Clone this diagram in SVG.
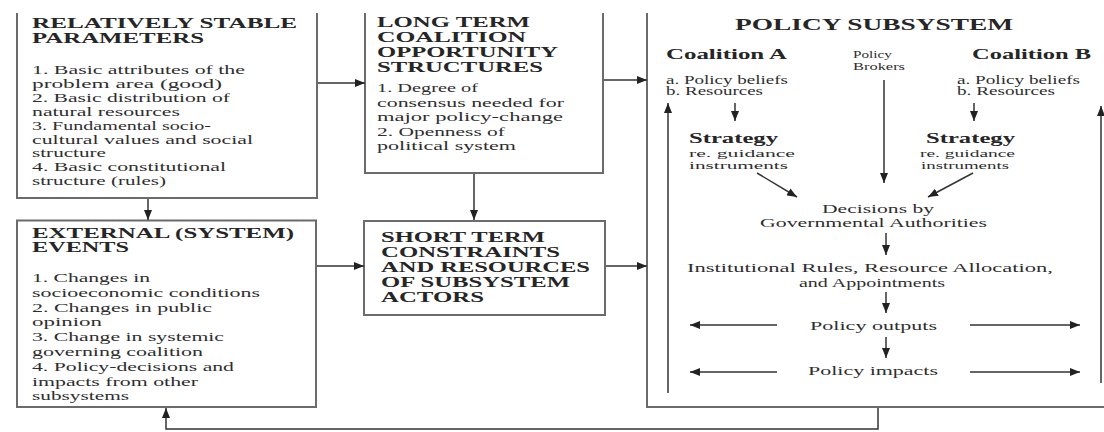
<svg xmlns="http://www.w3.org/2000/svg" width="1104" height="432" viewBox="0 0 1104 432">
<style>
.box{fill:none;stroke:#6b6b6b;stroke-width:2}
.ln{fill:none;stroke:#333;stroke-width:1.5}
.ttl{font-family:"Liberation Serif","Times New Roman",serif;font-weight:bold;font-size:15px;fill:#262626}
.bd{font-family:"Liberation Serif","Times New Roman",serif;font-size:13px;fill:#2e2e2e}
.sm{font-family:"Liberation Serif","Times New Roman",serif;font-size:11.5px;fill:#2e2e2e}
.sb{font-family:"Liberation Serif","Times New Roman",serif;font-weight:bold;font-size:14px;fill:#262626}
</style>
<defs>
<marker id="ah" markerUnits="userSpaceOnUse" markerWidth="10" markerHeight="8" refX="10" refY="4" orient="auto"><path d="M0,0 L10,4 L0,8 z" fill="#222"/></marker>
</defs>
<rect width="1104" height="432" fill="#fff"/>
<g id="n-stable">
<path class="box" d="M17,13 V198 H317 V13"/>
<text class="ttl" x="32" y="28" textLength="265" lengthAdjust="spacingAndGlyphs">RELATIVELY STABLE</text>
<text class="ttl" x="32" y="42.5" textLength="172" lengthAdjust="spacingAndGlyphs">PARAMETERS</text>
<text class="bd" x="32" y="74" textLength="213" lengthAdjust="spacingAndGlyphs">1. Basic attributes of the</text>
<text class="bd" x="32" y="87.9" textLength="190" lengthAdjust="spacingAndGlyphs">problem area (good)</text>
<text class="bd" x="32" y="101.8" textLength="198" lengthAdjust="spacingAndGlyphs">2. Basic distribution of</text>
<text class="bd" x="32" y="115.7" textLength="148" lengthAdjust="spacingAndGlyphs">natural resources</text>
<text class="bd" x="32" y="129.6" textLength="179" lengthAdjust="spacingAndGlyphs">3. Fundamental socio-</text>
<text class="bd" x="32" y="143.5" textLength="221" lengthAdjust="spacingAndGlyphs">cultural values and social</text>
<text class="bd" x="32" y="157.4" textLength="74" lengthAdjust="spacingAndGlyphs">structure</text>
<text class="bd" x="32" y="171.3" textLength="194" lengthAdjust="spacingAndGlyphs">4. Basic constitutional</text>
<text class="bd" x="32" y="185.2" textLength="134" lengthAdjust="spacingAndGlyphs">structure (rules)</text>
</g>
<g id="n-longterm">
<path class="box" d="M365,13 V173 H603 V13"/>
<text class="ttl" x="377" y="27" textLength="153" lengthAdjust="spacingAndGlyphs">LONG TERM</text>
<text class="ttl" x="377" y="42" textLength="149" lengthAdjust="spacingAndGlyphs">COALITION</text>
<text class="ttl" x="377" y="57" textLength="181" lengthAdjust="spacingAndGlyphs">OPPORTUNITY</text>
<text class="ttl" x="377" y="72" textLength="166" lengthAdjust="spacingAndGlyphs">STRUCTURES</text>
<text class="bd" x="377" y="92" textLength="101" lengthAdjust="spacingAndGlyphs">1. Degree of</text>
<text class="bd" x="377" y="106.5" textLength="187" lengthAdjust="spacingAndGlyphs">consensus needed for</text>
<text class="bd" x="377" y="121" textLength="186" lengthAdjust="spacingAndGlyphs">major policy-change</text>
<text class="bd" x="377" y="135.5" textLength="128" lengthAdjust="spacingAndGlyphs">2. Openness of</text>
<text class="bd" x="377" y="150" textLength="139" lengthAdjust="spacingAndGlyphs">political system</text>
</g>
<g id="n-external">
<rect class="box" x="17" y="220.5" width="299" height="186.5"/>
<text class="ttl" x="32" y="238" textLength="262" lengthAdjust="spacingAndGlyphs">EXTERNAL (SYSTEM)</text>
<text class="ttl" x="32" y="252" textLength="97" lengthAdjust="spacingAndGlyphs">EVENTS</text>
<text class="bd" x="32" y="282" textLength="118" lengthAdjust="spacingAndGlyphs">1. Changes in</text>
<text class="bd" x="32" y="296.8" textLength="228" lengthAdjust="spacingAndGlyphs">socioeconomic conditions</text>
<text class="bd" x="32" y="311.6" textLength="180" lengthAdjust="spacingAndGlyphs">2. Changes in public</text>
<text class="bd" x="32" y="326.4" textLength="70" lengthAdjust="spacingAndGlyphs">opinion</text>
<text class="bd" x="32" y="341.2" textLength="192" lengthAdjust="spacingAndGlyphs">3. Change in systemic</text>
<text class="bd" x="32" y="356" textLength="171" lengthAdjust="spacingAndGlyphs">governing coalition</text>
<text class="bd" x="32" y="370.8" textLength="202" lengthAdjust="spacingAndGlyphs">4. Policy-decisions and</text>
<text class="bd" x="32" y="385.6" textLength="166" lengthAdjust="spacingAndGlyphs">impacts from other</text>
<text class="bd" x="32" y="400.4" textLength="97" lengthAdjust="spacingAndGlyphs">subsystems</text>
</g>
<g id="n-shortterm">
<rect class="box" x="364" y="221" width="241" height="94"/>
<text class="ttl" x="381" y="242" textLength="164" lengthAdjust="spacingAndGlyphs">SHORT TERM</text>
<text class="ttl" x="381" y="257" textLength="179" lengthAdjust="spacingAndGlyphs">CONSTRAINTS</text>
<text class="ttl" x="381" y="272" textLength="209" lengthAdjust="spacingAndGlyphs">AND RESOURCES</text>
<text class="ttl" x="381" y="287" textLength="189" lengthAdjust="spacingAndGlyphs">OF SUBSYSTEM</text>
<text class="ttl" x="381" y="302" textLength="103" lengthAdjust="spacingAndGlyphs">ACTORS</text>
</g>
<g id="n-policy">
<path class="box" d="M647,13 V407 H1110"/>
<text class="ttl" style="font-size:17px" x="735" y="29.5" textLength="278" lengthAdjust="spacingAndGlyphs">POLICY SUBSYSTEM</text>
<g id="n-coalition-a">
<text class="sb" x="666" y="58.5" textLength="121" lengthAdjust="spacingAndGlyphs">Coalition A</text>
<text class="sm" x="666" y="83.5" textLength="122" lengthAdjust="spacingAndGlyphs">a. Policy beliefs</text>
<text class="sm" x="666" y="94.5" textLength="97" lengthAdjust="spacingAndGlyphs">b. Resources</text>
</g>
<g id="n-brokers">
<text class="sm" style="font-size:11px" x="853" y="57.5" textLength="39" lengthAdjust="spacingAndGlyphs">Policy</text>
<text class="sm" style="font-size:11px" x="853" y="69.5" textLength="52" lengthAdjust="spacingAndGlyphs">Brokers</text>
</g>
<g id="n-coalition-b">
<text class="sb" x="972" y="58.5" textLength="119" lengthAdjust="spacingAndGlyphs">Coalition B</text>
<text class="sm" x="957" y="83.5" textLength="123" lengthAdjust="spacingAndGlyphs">a. Policy beliefs</text>
<text class="sm" x="957" y="94.5" textLength="98" lengthAdjust="spacingAndGlyphs">b. Resources</text>
</g>
<g id="n-strategy-a">
<text class="sb" x="689" y="143" textLength="89" lengthAdjust="spacingAndGlyphs">Strategy</text>
<text class="sm" style="font-size:10.8px" x="689" y="157" textLength="106" lengthAdjust="spacingAndGlyphs">re. guidance</text>
<text class="sm" style="font-size:10.8px" x="689" y="169" textLength="99" lengthAdjust="spacingAndGlyphs">instruments</text>
</g>
<g id="n-strategy-b">
<text class="sb" x="926" y="143" textLength="89" lengthAdjust="spacingAndGlyphs">Strategy</text>
<text class="sm" style="font-size:10.8px" x="920" y="157" textLength="95" lengthAdjust="spacingAndGlyphs">re. guidance</text>
<text class="sm" style="font-size:10.8px" x="921" y="169" textLength="88" lengthAdjust="spacingAndGlyphs">instruments</text>
</g>
<g id="n-decisions">
<text class="bd" x="822" y="213" textLength="112" lengthAdjust="spacingAndGlyphs">Decisions by</text>
<text class="bd" x="760" y="227" textLength="227" lengthAdjust="spacingAndGlyphs">Governmental Authorities</text>
</g>
<g id="n-rules">
<text class="bd" x="687" y="272" textLength="366" lengthAdjust="spacingAndGlyphs">Institutional Rules, Resource Allocation,</text>
<text class="bd" x="799" y="287" textLength="146" lengthAdjust="spacingAndGlyphs">and Appointments</text>
</g>
<g id="n-outputs">
<text class="bd" x="810" y="330" textLength="127" lengthAdjust="spacingAndGlyphs">Policy outputs</text>
</g>
<g id="n-impacts">
<text class="bd" x="808" y="375" textLength="130" lengthAdjust="spacingAndGlyphs">Policy impacts</text>
</g>
</g>
<g id="connectors">
<line class="ln" x1="318" y1="83" x2="365" y2="83" marker-end="url(#ah)"/>
<line class="ln" x1="604" y1="80" x2="647" y2="80" marker-end="url(#ah)"/>
<line class="ln" x1="148" y1="199" x2="148" y2="220" marker-end="url(#ah)"/>
<line class="ln" x1="474" y1="174" x2="474" y2="220" marker-end="url(#ah)"/>
<line class="ln" x1="317" y1="266" x2="364" y2="266" marker-end="url(#ah)"/>
<line class="ln" x1="606" y1="266" x2="647" y2="266" marker-end="url(#ah)"/>
<path class="ln" d="M878,408 V429 H166 V408" marker-end="url(#ah)"/>
<line class="ln" x1="735" y1="103" x2="735" y2="121" marker-end="url(#ah)"/>
<line class="ln" x1="974" y1="103" x2="974" y2="121" marker-end="url(#ah)"/>
<line class="ln" x1="884" y1="80" x2="884" y2="183" marker-end="url(#ah)"/>
<line class="ln" x1="757" y1="173" x2="797" y2="197" marker-end="url(#ah)"/>
<line class="ln" x1="973" y1="173" x2="928" y2="197" marker-end="url(#ah)"/>
<line class="ln" x1="886" y1="233" x2="886" y2="255" marker-end="url(#ah)"/>
<line class="ln" x1="886" y1="292" x2="886" y2="313" marker-end="url(#ah)"/>
<line class="ln" x1="886" y1="337" x2="886" y2="358" marker-end="url(#ah)"/>
<line class="ln" x1="777" y1="325" x2="690" y2="325" marker-end="url(#ah)"/>
<line class="ln" x1="970" y1="325" x2="1080" y2="325" marker-end="url(#ah)"/>
<line class="ln" x1="777" y1="372" x2="690" y2="372" marker-end="url(#ah)"/>
<line class="ln" x1="970" y1="372" x2="1080" y2="372" marker-end="url(#ah)"/>
<line class="ln" x1="668" y1="393" x2="668" y2="103" marker-end="url(#ah)"/>
<line class="ln" x1="1101" y1="383" x2="1101" y2="106" marker-end="url(#ah)"/>
</g>
</svg>
